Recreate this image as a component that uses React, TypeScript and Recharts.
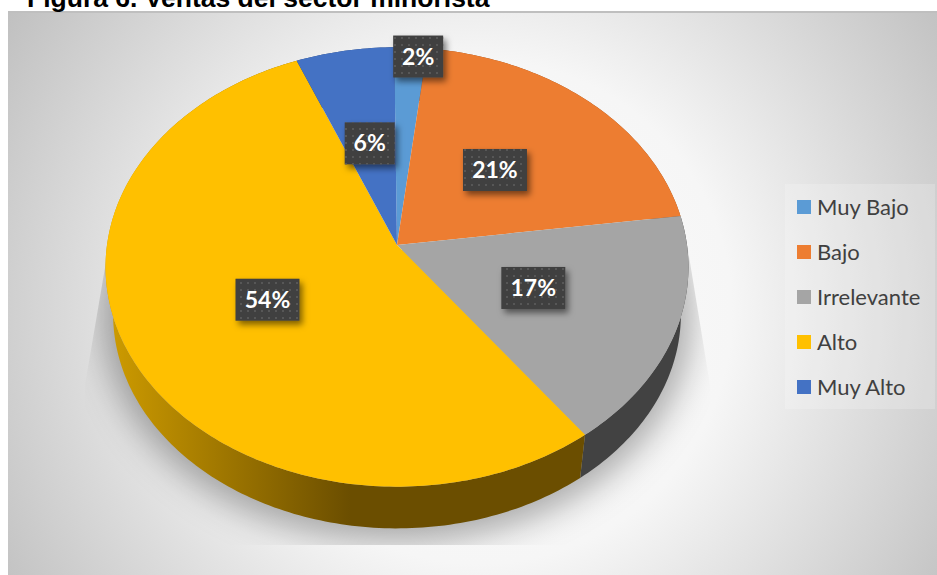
import React from 'react';
import { PieChart, Pie, Legend } from 'recharts';

const categories = ['Muy Bajo', 'Bajo', 'Irrelevante', 'Alto', 'Muy Alto'];
const shares = [2, 21, 17, 54, 6];
const faceColors = ['#5B9BD5', '#ED7D31', '#A5A5A5', '#FFC000', '#4472C4'];
const wallColors = ['#2F5F8A', '#8F4A1C', '#424242', 'url(#wallAlto)', '#284478'];

const WIDTH = 937;
const HEIGHT = 575;

// Tilted disc: vertical squash, perspective strength, and how the lower rim
// shrinks and drops to give the disc its thickness.
const SQUASH = 0.75;
const PERSPECTIVE = 0.1;
const RIM_SCALE = 0.974;
const RIM_DROP = 48;
const FIRST_ANGLE = 90.6;

const rows = categories.map((name, i) => ({
    name,
    value: shares[i],
    fill: faceColors[i],
    wall: wallColors[i],
}));

const project = (cx: number, cy: number, r: number, deg: number) => {
    const a = (deg * Math.PI) / 180;
    const d = 1 + (PERSPECTIVE * r * Math.sin(a)) / 290;
    return {
        x: cx + (r * Math.cos(a)) / d,
        y: cy - (r * SQUASH * Math.sin(a)) / d,
    };
};

const arcPoints = (cx: number, cy: number, r: number, start: number, end: number) => {
    const steps = Math.max(2, Math.ceil(Math.abs(end - start)));
    const pts = [];
    for (let i = 0; i <= steps; i++) {
        pts.push(project(cx, cy, r, start + ((end - start) * i) / steps));
    }
    return pts;
};

const toPath = (pts: { x: number; y: number }[]) =>
    pts.map((p, i) => `${i ? 'L' : 'M'}${p.x.toFixed(2)},${p.y.toFixed(2)}`).join(' ') + ' Z';

const FaceSlice = (props: any) => {
    const { cx, cy, outerRadius, startAngle, endAngle, fill } = props;
    const pts = arcPoints(cx, cy, outerRadius, startAngle, endAngle);
    return <path d={toPath([{ x: cx, y: cy }, ...pts])} fill={fill} stroke="none" />;
};

const WallSlice = (props: any) => {
    const { cx, cy, outerRadius, startAngle, endAngle, wall } = props;
    const upper = arcPoints(cx, cy, outerRadius, startAngle, endAngle);
    const lower = upper.map((p) => ({
        x: cx + (p.x - cx) * RIM_SCALE,
        y: cy + RIM_DROP + (p.y - cy) * RIM_SCALE,
    }));
    return <path d={toPath([...upper, ...lower.reverse()])} fill={wall} stroke="none" />;
};

const ValueLabel = (props: any) => {
    const { cx, cy, outerRadius, midAngle, value } = props;
    // thin slices push the tag out to the rim, the rest sit halfway along
    const small = value < 5;
    const p = project(cx, cy, outerRadius * (small ? 0.95 : 0.5), midAngle);
    const x = p.x + (small ? 8 : 0);
    const w = value < 10 ? 50 : 64;
    const h = 42;
    return (
        <g>
            <g filter="url(#tagShadow)">
                <rect x={x - w / 2} y={p.y - h / 2} width={w} height={h} fill="#404040" />
            </g>
            <rect x={x - w / 2} y={p.y - h / 2} width={w} height={h} fill="url(#tagDots)" />
            <text
                x={x}
                y={p.y + 8}
                textAnchor="middle"
                fill="#FFFFFF"
                fontFamily="Lato"
                fontWeight={700}
                fontSize={23}
            >
                {value}%
            </text>
        </g>
    );
};

const LegendList = ({ payload }: any) => (
    <div style={{ width: 150, height: 225, background: 'rgba(255,255,255,0.2)' }}>
        {(payload || [])
            .filter((item: any) => item.type !== 'none')
            .map((item: any) => (
                <div key={item.value} style={{ display: 'flex', alignItems: 'center', height: 45, paddingLeft: 12 }}>
                    <span style={{ width: 14, height: 14, background: item.color, marginRight: 6, flex: 'none' }} />
                    <span style={{ fontFamily: 'Lato', fontSize: 22, color: '#404040', whiteSpace: 'nowrap' }}>{item.value}</span>
                </div>
            ))}
    </div>
);

export default function App() {
    return (
        <div style={{ position: 'absolute', left: 0, top: 0, width: WIDTH, height: HEIGHT, overflow: 'hidden', background: '#FFFFFF' }}>
            <div
                style={{
                    position: 'absolute',
                    left: 8,
                    top: 11,
                    right: 0,
                    bottom: 0,
                    borderTop: '2px solid #BFBFBF',
                    background: 'radial-gradient(circle 560px at 472px 299px, #FCFCFC 0%, #F6F6F6 45%, #C0C0C0 100%)',
                }}
            />
            <div
                style={{
                    position: 'absolute',
                    left: 27,
                    top: -17,
                    fontFamily: 'Liberation Sans',
                    fontWeight: 700,
                    fontSize: 26.5,
                    lineHeight: '30px',
                    color: '#000000',
                    whiteSpace: 'nowrap',
                }}
            >
                Figura 6. Ventas del sector minorista
            </div>
            <svg width={WIDTH} height={HEIGHT} style={{ position: 'absolute', left: 0, top: 0 }}>
                <defs>
                    <linearGradient id="wallAlto" gradientUnits="userSpaceOnUse" x1="113" y1="0" x2="350" y2="0">
                        <stop offset="0%" stopColor="#CC9A00" />
                        <stop offset="100%" stopColor="#6B4E00" />
                    </linearGradient>
                    <pattern id="tagDots" width="7" height="7" patternUnits="userSpaceOnUse">
                        <rect x="2" y="2" width="2" height="2" fill="#575757" />
                    </pattern>
                    <filter id="tagShadow" x="-30%" y="-30%" width="170%" height="170%">
                        <feDropShadow dx="3" dy="4" stdDeviation="3" floodColor="#000000" floodOpacity="0.5" />
                    </filter>
                    <filter id="discBlur" x="-20%" y="-20%" width="140%" height="140%">
                        <feGaussianBlur stdDeviation="17" />
                    </filter>
                    <clipPath id="discShadowClip">
                        <polygon points="108,250 85,385 85,545 710,545 710,385 688,250" />
                    </clipPath>
                </defs>
                <g clipPath="url(#discShadowClip)">
                    <ellipse cx="397" cy="316" rx="294" ry="226" fill="#000000" fillOpacity="0.32" filter="url(#discBlur)" />
                </g>
            </svg>
            <div style={{ position: 'absolute', left: 0, top: 0 }}>
                <PieChart width={WIDTH} height={HEIGHT} margin={{ top: 0, right: 0, bottom: 0, left: 0 }}>
                    <Pie
                        data={rows}
                        dataKey="value"
                        nameKey="name"
                        cx={397}
                        cy={245}
                        outerRadius={290}
                        startAngle={FIRST_ANGLE}
                        endAngle={FIRST_ANGLE - 360}
                        legendType="none"
                        shape={WallSlice}
                        stroke="none"
                        isAnimationActive={false}
                    />
                    <Pie
                        data={rows}
                        dataKey="value"
                        nameKey="name"
                        cx={397}
                        cy={245}
                        outerRadius={290}
                        startAngle={FIRST_ANGLE}
                        endAngle={FIRST_ANGLE - 360}
                        legendType="square"
                        shape={FaceSlice}
                        stroke="none"
                        label={ValueLabel}
                        labelLine={false}
                        isAnimationActive={false}
                    />
                    <Legend
                        content={LegendList}
                        itemSorter={null}
                        layout="vertical"
                        align="right"
                        verticalAlign="top"
                        wrapperStyle={{ left: 785, top: 184, width: 150 }}
                    />
                </PieChart>
            </div>
        </div>
    );
}
